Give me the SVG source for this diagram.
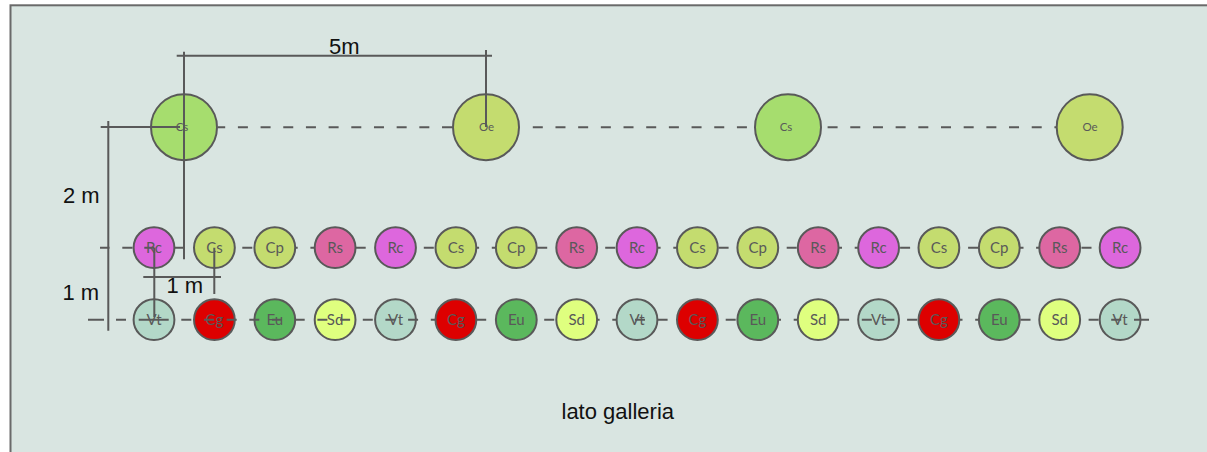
<svg xmlns="http://www.w3.org/2000/svg" width="1207" height="452" viewBox="0 0 1207 452">
<style>
.bg{fill:#D9E5E1;stroke:#6A6A6A;stroke-width:2}
circle{stroke:#595959;stroke-width:2}
.l{font-family:"Lato","Liberation Sans",sans-serif;font-size:15px;fill:#595959;text-anchor:middle}
.s{font-family:"Lato","Liberation Sans",sans-serif;font-size:11.5px;fill:#595959;text-anchor:middle}
.t{font-family:"Liberation Sans",Arial,sans-serif;font-size:22px;fill:#111}
.c{fill:none;stroke:#595959;stroke-width:2}
.d{stroke-dasharray:10 12.68}
.cs{fill:#A6DD6E}.oe{fill:#C4DC6F}.rc{fill:#DD67DD}.rs{fill:#DD67A2}.vt{fill:#B3D8C8}.cg{fill:#DD0000}.eu{fill:#5BB85D}.sd{fill:#DFFF7F}
</style>
<rect class="bg" x="10.5" y="5.3" width="1215" height="465"/>
<g id="top-1"><circle class="cs" cx="184" cy="127.2" r="33"/><text class="s" x="182" y="131">Cs</text></g>
<g id="top-2"><circle class="oe" cx="486" cy="127.2" r="33"/><text class="s" x="486.500" y="131">Oe</text></g>
<g id="top-3"><circle class="cs" cx="788" cy="127.2" r="33"/><text class="s" x="786" y="131">Cs</text></g>
<g id="top-4"><circle class="oe" cx="1089.700" cy="127.2" r="33"/><text class="s" x="1090" y="131">Oe</text></g>
<g id="r1-01"><circle class="rc" cx="154" cy="247.700" r="20.400"/><text class="l" x="154" y="253">Rc</text></g>
<g id="r1-02"><circle class="oe" cx="214.400" cy="247.700" r="20.400"/><text class="l" x="214.400" y="253">Cs</text></g>
<g id="r1-03"><circle class="oe" cx="274.800" cy="247.700" r="20.400"/><text class="l" x="274.800" y="253">Cp</text></g>
<g id="r1-04"><circle class="rs" cx="335.100" cy="247.700" r="20.400"/><text class="l" x="335.100" y="253">Rs</text></g>
<g id="r1-05"><circle class="rc" cx="395.500" cy="247.700" r="20.400"/><text class="l" x="395.500" y="253">Rc</text></g>
<g id="r1-06"><circle class="oe" cx="455.900" cy="247.700" r="20.400"/><text class="l" x="455.900" y="253">Cs</text></g>
<g id="r1-07"><circle class="oe" cx="516.300" cy="247.700" r="20.400"/><text class="l" x="516.300" y="253">Cp</text></g>
<g id="r1-08"><circle class="rs" cx="576.700" cy="247.700" r="20.400"/><text class="l" x="576.700" y="253">Rs</text></g>
<g id="r1-09"><circle class="rc" cx="637" cy="247.700" r="20.400"/><text class="l" x="637" y="253">Rc</text></g>
<g id="r1-10"><circle class="oe" cx="697.400" cy="247.700" r="20.400"/><text class="l" x="697.400" y="253">Cs</text></g>
<g id="r1-11"><circle class="oe" cx="757.800" cy="247.700" r="20.400"/><text class="l" x="757.800" y="253">Cp</text></g>
<g id="r1-12"><circle class="rs" cx="818.200" cy="247.700" r="20.400"/><text class="l" x="818.200" y="253">Rs</text></g>
<g id="r1-13"><circle class="rc" cx="878.600" cy="247.700" r="20.400"/><text class="l" x="878.600" y="253">Rc</text></g>
<g id="r1-14"><circle class="oe" cx="938.900" cy="247.700" r="20.400"/><text class="l" x="938.900" y="253">Cs</text></g>
<g id="r1-15"><circle class="oe" cx="999.300" cy="247.700" r="20.400"/><text class="l" x="999.300" y="253">Cp</text></g>
<g id="r1-16"><circle class="rs" cx="1059.700" cy="247.700" r="20.400"/><text class="l" x="1059.700" y="253">Rs</text></g>
<g id="r1-17"><circle class="rc" cx="1120.100" cy="247.700" r="20.400"/><text class="l" x="1120.100" y="253">Rc</text></g>
<g id="r2-01"><circle class="vt" cx="154" cy="319.700" r="20.400"/><text class="l" x="154" y="325">Vt</text></g>
<g id="r2-02"><circle class="cg" cx="214.400" cy="319.700" r="20.400"/><text class="l" x="214.400" y="325">Cg</text></g>
<g id="r2-03"><circle class="eu" cx="274.800" cy="319.700" r="20.400"/><text class="l" x="274.800" y="325">Eu</text></g>
<g id="r2-04"><circle class="sd" cx="335.100" cy="319.700" r="20.400"/><text class="l" x="335.100" y="325">Sd</text></g>
<g id="r2-05"><circle class="vt" cx="395.500" cy="319.700" r="20.400"/><text class="l" x="395.500" y="325">Vt</text></g>
<g id="r2-06"><circle class="cg" cx="455.900" cy="319.700" r="20.400"/><text class="l" x="455.900" y="325">Cg</text></g>
<g id="r2-07"><circle class="eu" cx="516.300" cy="319.700" r="20.400"/><text class="l" x="516.300" y="325">Eu</text></g>
<g id="r2-08"><circle class="sd" cx="576.700" cy="319.700" r="20.400"/><text class="l" x="576.700" y="325">Sd</text></g>
<g id="r2-09"><circle class="vt" cx="637" cy="319.700" r="20.400"/><text class="l" x="637" y="325">Vt</text></g>
<g id="r2-10"><circle class="cg" cx="697.400" cy="319.700" r="20.400"/><text class="l" x="697.400" y="325">Cg</text></g>
<g id="r2-11"><circle class="eu" cx="757.800" cy="319.700" r="20.400"/><text class="l" x="757.800" y="325">Eu</text></g>
<g id="r2-12"><circle class="sd" cx="818.200" cy="319.700" r="20.400"/><text class="l" x="818.200" y="325">Sd</text></g>
<g id="r2-13"><circle class="vt" cx="878.600" cy="319.700" r="20.400"/><text class="l" x="878.600" y="325">Vt</text></g>
<g id="r2-14"><circle class="cg" cx="938.900" cy="319.700" r="20.400"/><text class="l" x="938.900" y="325">Cg</text></g>
<g id="r2-15"><circle class="eu" cx="999.300" cy="319.700" r="20.400"/><text class="l" x="999.300" y="325">Eu</text></g>
<g id="r2-16"><circle class="sd" cx="1059.700" cy="319.700" r="20.400"/><text class="l" x="1059.700" y="325">Sd</text></g>
<g id="r2-17"><circle class="vt" cx="1120.100" cy="319.700" r="20.400"/><text class="l" x="1120.100" y="325">Vt</text></g>
<g id="connectors">
<path class="c d" d="M237.900 127.200H452M532.800 127.200H747M827.600 127.200H1042"/>
<path class="c" d="M218 127.200H225.200M1054.400 127.200H1056.700"/>
<path class="c" d="M100 247.700H109.500M122.300 247.700H132.500M144.300 247.700H154.300M175 247.700H184.300M242.300 247.700H252.300M295.500 247.700H297.700M310.400 247.700H314.400M355.800 247.700H365.700M423.800 247.700H433.800M476.600 247.700H479.100M491.800 247.700H495.600M537.200 247.700H547.200M605.200 247.700H615.200M657.700 247.700H660.600M673.300 247.700H676.700M718.600 247.700H728.600M786.700 247.700H796.700M838.900 247.700H842M854.700 247.700H857.900M900.100 247.700H910.100M968.100 247.700H978.100M1020 247.700H1023.500M1036.100 247.700H1039M1081.500 247.700H1091.500"/>
<path class="c" d="M88 319.700H104M116 319.700H126M138.700 319.700H168.700M181.300 319.700H191.300M204 319.700H214M226.700 319.700H236.700M249.300 319.700H259.300M272 319.700H282M294.700 319.700H304.700M317.400 319.700H327.400M340.100 319.700H350.100M362.800 319.700H372.800M385.400 319.700H395.400M408.100 319.700H418.100M430.800 319.700H435.200M476.600 319.700H486.200M544.200 319.700H554.200M597.400 319.700H599.600M612.300 319.700H616.300M635 319.700H645M657.600 319.700H667.600M725.700 319.700H735.700M778.500 319.700H781M793.700 319.700H797.500M839.100 319.700H849.100M861.800 319.700H871.800M884.400 319.700H894.400M907.100 319.700H917.100M959.600 319.700H962.500M975.200 319.700H978.600M1020.500 319.700H1030.500M1088.600 319.700H1098.600M1111.200 319.700H1121.200M1134 319.700H1149"/>
<path class="c" d="M176.700 55.700H492M184 51.700V259.300M486 50V127M100.700 127H180M108.300 121V330.700M154.300 247.700V317M214.300 247.700V294M143.300 277H221"/>
</g>
<text class="t" x="329" y="54">5m</text>
<text class="t" x="63" y="202.700">2 m</text>
<text class="t" x="62.500" y="300">1 m</text>
<text class="t" x="166.500" y="292.700">1 m</text>
<text class="t" x="561.500" y="419">lato galleria</text>
</svg>
